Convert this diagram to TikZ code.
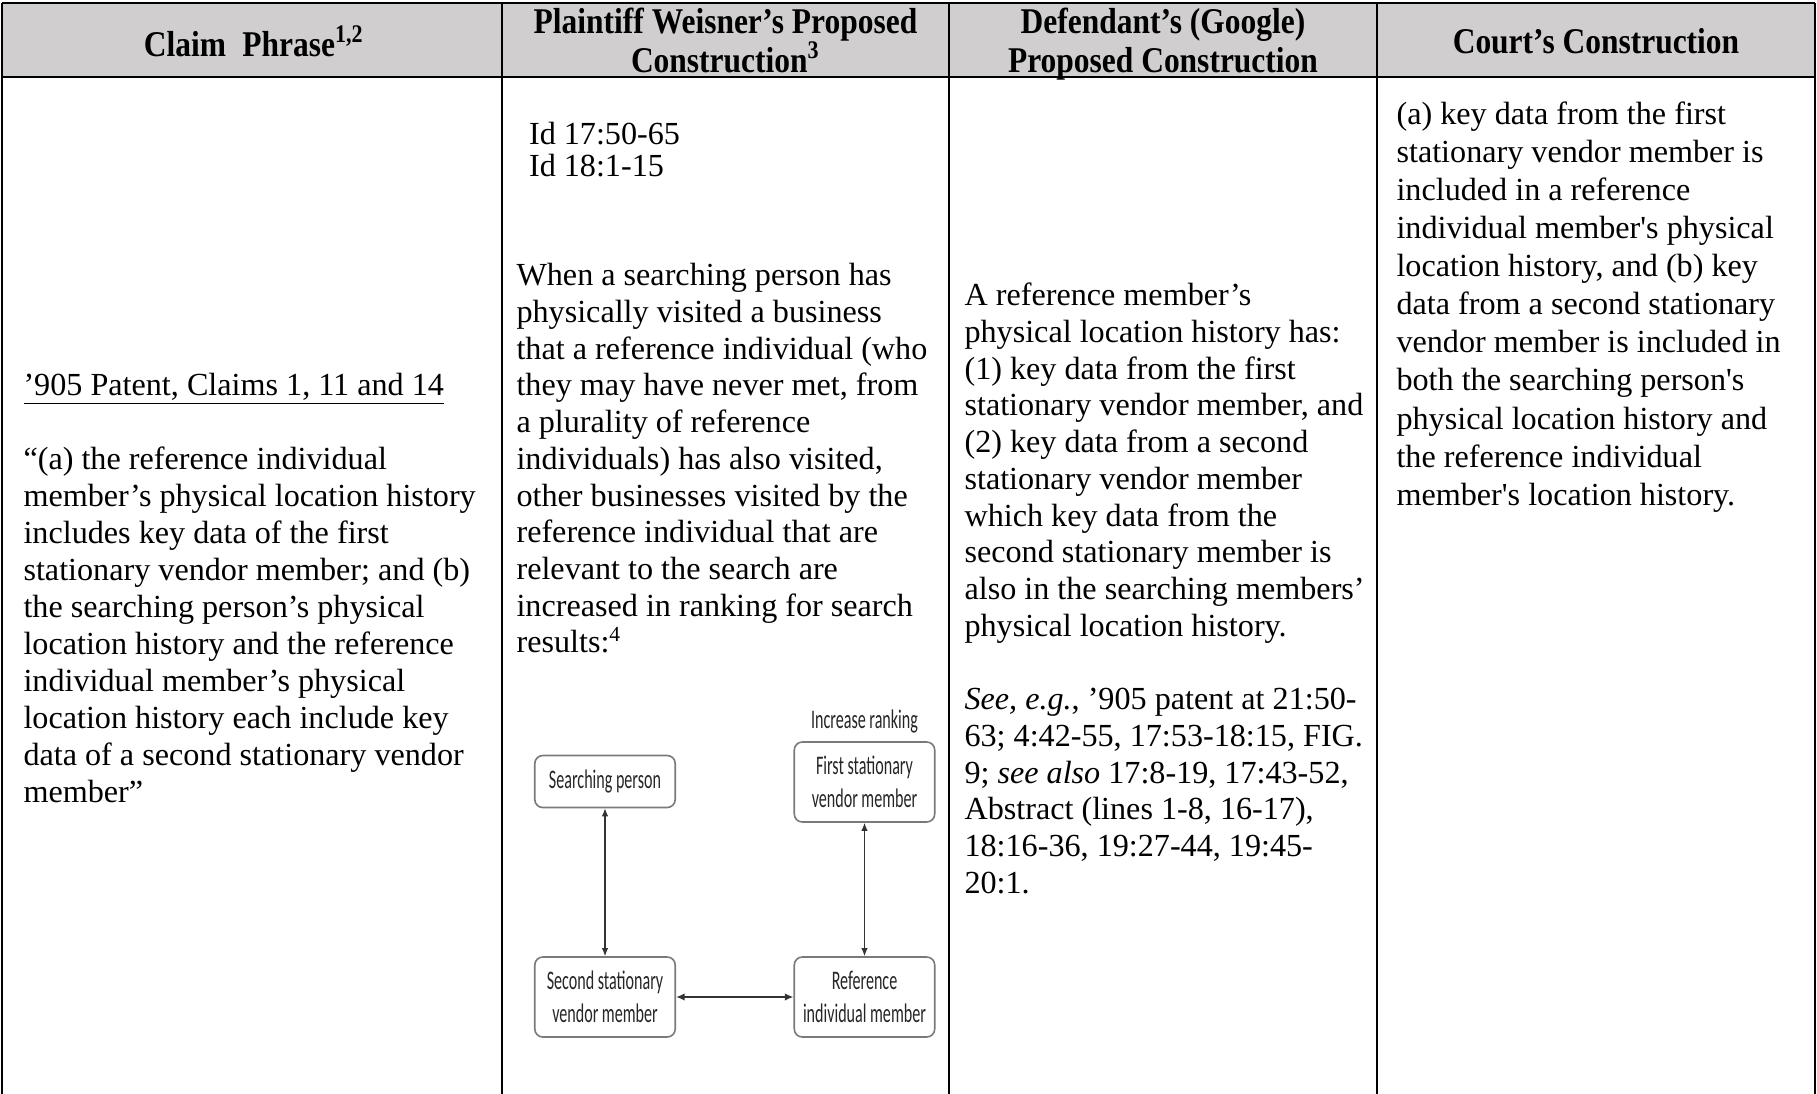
\documentclass[tikz,border=0pt]{standalone}
\usepackage{fontspec}
\setmainfont{Liberation Serif}
\newfontfamily\hdrfont[FakeStretch=0.87]{Liberation Serif}
\newfontfamily\diagfont[FakeStretch=0.6]{Carlito}
\usetikzlibrary{arrows.meta}
\definecolor{hdrgray}{HTML}{D0CECE}
\definecolor{boxgray}{HTML}{7A7A7A}
\definecolor{diagtext}{HTML}{262626}
\definecolor{arrgray}{HTML}{333333}
\tikzset{
  tline/.style={line width=0.75pt, black},
  hdr/.style={font=\hdrfont\bfseries\fontsize{13.5}{14.4}\selectfont, align=center, inner sep=0pt},
  body/.style={font=\fontsize{12}{#1}\selectfont, align=left, inner sep=0pt, anchor=north west},
  body/.default=13.8,
  dbox/.style={draw=boxgray, line width=0.6pt, rounded corners=3pt, fill=white,
    font=\diagfont\fontsize{10}{12.4}\selectfont, text=diagtext, align=center,
    minimum width=52.4pt, inner sep=0pt},
  dlabel/.style={font=\diagfont\fontsize{10}{12.4}\selectfont, text=diagtext, inner sep=0pt},
  darr/.style={draw=arrgray, line width=0.45pt, {Latex[length=3pt,width=2.4pt]}-{Latex[length=3pt,width=2.4pt]}},
  darrh/.style={draw=arrgray, line width=0.8pt, {Latex[length=3.2pt,width=2.8pt]}-{Latex[length=3.2pt,width=2.8pt]}}
}
\begin{document}
\begin{tikzpicture}[x=0.37313pt, y=-0.37313pt]
\useasboundingbox (0,0) rectangle (1817,1094);
\fill[white] (0,0) rectangle (1817,1094);
% header band
\fill[hdrgray] (2,3) rectangle (1815,77);
\draw[tline] (2,3) -- (1815,3);
\draw[tline] (2,77) -- (1815,77);
\foreach \cx in {2,502,949,1377,1815} { \draw[tline] (\cx,3) -- (\cx,1094); }

% header texts
\node[hdr] (h1) at (254,41) {Claim\hspace{0.45em}Phrase\textsuperscript{1,2}};
\node[hdr] (h2) at (725.5,40.5) {Plaintiff Weisner’s Proposed\\Construction\textsuperscript{3}};
\node[hdr] (h3) at (1163,44) {Defendant’s (Google)\\Proposed Construction};
\node[hdr] (h4) at (1596,41.5) {Court’s Construction};

% column 1
\node[font=\fontsize{12}{13.8}\selectfont, inner sep=0pt, anchor=base west] (c1t) at (23,395)
  {\underline{’905 Patent, Claims 1, 11 and 14}};
\node[body=13.8] (c1q) at (23,443.5) {\strut“(a) the reference individual\\
member’s physical location history\\
includes key data of the first\\
stationary vendor member; and (b)\\
the searching person’s physical\\
location history and the reference\\
individual member’s physical\\
location history each include key\\
data of a second stationary vendor\\
member”};

% column 2
\node[body=12] (c2id) at (528.5,121.5) {\strut Id 17:50-65\\Id 18:1-15};
\node[body=13.7] (c2b) at (516,259.5) {\strut When a searching person has\\
physically visited a business\\
that a reference individual (who\\
they may have never met, from\\
a plurality of reference\\
individuals) has also visited,\\
other businesses visited by the\\
reference individual that are\\
relevant to the search are\\
increased in ranking for search\\
results:\textsuperscript{4}};

% diagram
\node[dlabel] (inc) at (864.5,721) {Increase ranking};
\node[dbox, minimum height=19.4pt] (sp) at (605,781.5) {Searching person};
\node[dbox, minimum height=29.85pt] (fs) at (864.5,782) {First stationary\\vendor member};
\node[dbox, minimum height=29.85pt] (ss) at (605,997) {Second stationary\\vendor member};
\node[dbox, minimum height=29.85pt] (ri) at (864.5,997) {Reference\\individual member};
\draw[darr] (sp) -- (ss);
\draw[darr] (fs) -- (ri);
\draw[darrh] (ss) -- (ri);

% column 3
\node[body=13.7] (c3) at (964,279.5) {\strut A reference member’s\\
physical location history has:\\
(1) key data from the first\\
stationary vendor member, and\\
(2) key data from a second\\
stationary vendor member\\
which key data from the\\
second stationary member is\\
also in the searching members’\\
physical location history.\\[13.7pt]
\textit{See, e.g.}, ’905 patent at 21:50-\\
63; 4:42-55, 17:53-18:15, FIG.\\
9; \textit{see also} 17:8-19, 17:43-52,\\
Abstract (lines 1-8, 16-17),\\
18:16-36, 19:27-44, 19:45-\\
20:1.};

% column 4
\node[body=14.2] (c4) at (1396,97.4) {\strut (a) key data from the first\\
stationary vendor member is\\
included in a reference\\
individual member\textquotesingle s physical\\
location history, and (b) key\\
data from a second stationary\\
vendor member is included in\\
both the searching person\textquotesingle s\\
physical location history and\\
the reference individual\\
member\textquotesingle s location history.};
\end{tikzpicture}
\end{document}
